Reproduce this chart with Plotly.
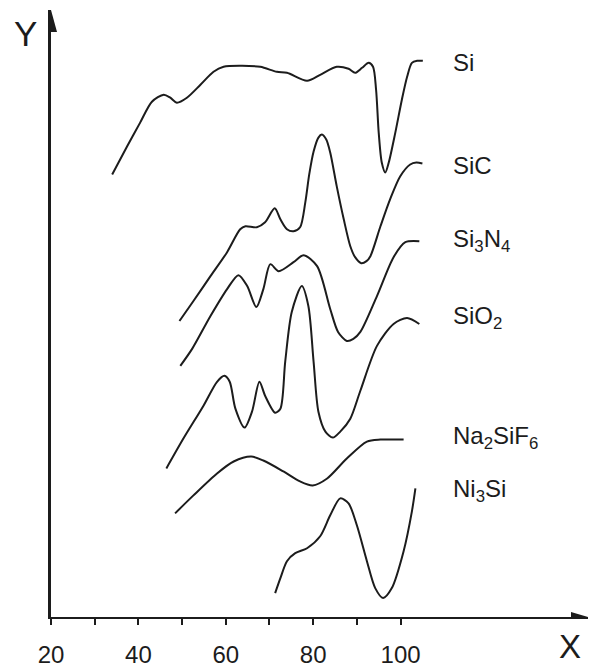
import plotly.graph_objects as go

# ---- data (x in axis units, y in arbitrary height units above the X axis) ----
si_x = [34.0, 37.4, 40.4, 43.1, 45.8, 47.3, 48.8, 51.1, 54.2, 57.2,
        59.5, 63.3, 67.9, 71.7, 74.0, 78.6, 81.6, 85.4, 88.1, 89.6,
        91.2, 92.7, 93.7, 94.4, 95.0, 95.7, 96.5, 97.3, 98.8, 100.3,
        101.5, 102.6, 103.8, 105.1]
si_y = [444, 472, 496, 517, 524, 521, 516, 521, 534, 547,
        552, 553, 552, 547, 546, 538, 544, 552, 550, 546,
        551, 556, 552, 529, 486, 456, 446, 456, 486, 519,
        542, 556, 558, 558]

sic_x = [49.4, 52.6, 56.5, 60.3, 63.3, 64.5, 67.1, 69.0, 71.2, 72.5,
         74.0, 75.5, 77.0, 78.2, 79.1, 80.1, 81.2, 82.0, 83.0, 83.9,
         85.4, 87.0, 88.5, 89.6, 91.0, 92.2, 93.1, 95.4, 97.6, 99.9,
         102.2, 103.6, 105.0]
sic_y = [297, 317, 342, 366, 389, 392, 391, 396, 410, 399,
         389, 387, 391, 416, 444, 467, 481, 484, 479, 466,
         432, 399, 372, 361, 355, 357, 362, 392, 419, 442,
         454, 456, 455]

si3n4_x = [49.6, 52.3, 56.5, 60.3, 62.9, 64.9, 67.0, 68.6, 70.2, 72.1,
           75.5, 77.8, 80.9, 83.9, 85.7, 87.7, 89.2, 90.8, 94.6, 98.4,
           101.1, 104.3]
si3n4_y = [252, 269, 302, 329, 343, 332, 311, 329, 354, 347,
           356, 363, 352, 309, 286, 277, 279, 286, 322, 361,
           376, 377]

sio2_x = [46.4, 50.3, 54.9, 58.0, 59.7, 60.9, 62.2, 64.3, 66.0, 67.7,
          69.0, 71.3, 72.5, 73.6, 75.1, 77.4, 78.9, 80.1, 81.2, 82.8,
          84.5, 86.2, 88.5, 90.8, 94.6, 98.4, 101.5, 104.3]
sio2_y = [149, 179, 212, 236, 242, 236, 209, 190, 206, 236,
          222, 205, 209, 256, 306, 332, 312, 256, 206, 186,
          180, 186, 199, 227, 272, 294, 300, 294]

na2sif6_x = [48.4, 52.6, 58.0, 61.8, 65.8, 68.6, 73.2, 77.0, 79.9, 83.2,
             87.7, 92.3, 95.4, 100.7]
na2sif6_y = [104, 122, 144, 156, 161, 157, 146, 136, 132, 139,
             159, 176, 178, 178]

ni3si_x = [71.3, 72.5, 74.0, 75.9, 78.6, 81.6, 83.9, 86.2, 88.1, 90.0,
           92.3, 94.2, 96.0, 98.0, 100.7, 102.6, 103.4]
ni3si_y = [24, 39, 56, 64, 69, 81, 102, 119, 114, 92,
           56, 29, 19, 29, 66, 106, 129]

series = [
    ("Si", si_x, si_y),
    ("SiC", sic_x, sic_y),
    ("Si<sub>3</sub>N<sub>4</sub>", si3n4_x, si3n4_y),
    ("SiO<sub>2</sub>", sio2_x, sio2_y),
    ("Na<sub>2</sub>SiF<sub>6</sub>", na2sif6_x, na2sif6_y),
    ("Ni<sub>3</sub>Si", ni3si_x, ni3si_y),
]
label_y = [556, 453, 378, 300, 180, 127]
label_x = 111.5

major_ticks = [20, 40, 60, 80, 100]
minor_ticks = [30, 50, 70, 90]

X_MIN, X_MAX = 20, 142.9
Y_MIN, Y_MAX = 0, 609

FONT = "Liberation Sans, Arial, sans-serif"
INK = "#1c1c1c"

fig = go.Figure()
for name, xs, ys in series:
    fig.add_trace(go.Scatter(
        x=xs, y=ys, mode="lines", name=name,
        line=dict(color=INK, width=2, shape="spline", smoothing=0.8),
        showlegend=False, hoverinfo="skip"))

annotations = []
for (name, _, _), ly in zip(series, label_y):
    annotations.append(dict(x=label_x, y=ly, xref="x", yref="y", text=name,
                            showarrow=False, xanchor="left", yanchor="middle",
                            font=dict(family=FONT, size=24, color=INK)))
annotations.append(dict(x=-0.048, y=0.962, xref="paper", yref="paper", text="Y",
                        showarrow=False, xanchor="center", yanchor="middle",
                        borderpad=0,
                        font=dict(family=FONT, size=35, color=INK)))
annotations.append(dict(x=0.966, y=-0.049, xref="paper", yref="paper", text="X",
                        showarrow=False, xanchor="center", yanchor="middle",
                        borderpad=0,
                        font=dict(family=FONT, size=33, color=INK)))

shapes = [
    # arrowhead of Y axis
    dict(type="path", xref="x", yref="y", xsizemode="pixel", ysizemode="pixel",
         xanchor=X_MIN, yanchor=Y_MAX, path="M0,0 L-6,-22 L6,-22 Z",
         fillcolor=INK, line=dict(width=0)),
    # arrowhead of X axis
    dict(type="path", xref="x", yref="y", xsizemode="pixel", ysizemode="pixel",
         xanchor=X_MAX, yanchor=Y_MIN, path="M0,0 L-17,5 L-17,-5 Z",
         fillcolor=INK, line=dict(width=0)),
]

fig.update_layout(
    width=589, height=669,
    margin=dict(l=51, r=1, t=10, b=50),
    paper_bgcolor="white", plot_bgcolor="white",
    annotations=annotations, shapes=shapes,
    xaxis=dict(range=[X_MIN, X_MAX], showgrid=False, zeroline=False,
               showline=True, linecolor=INK, linewidth=2,
               tickmode="array", tickvals=major_ticks,
               ticks="outside", ticklen=6, tickwidth=2, tickcolor=INK,
               ticklabelstandoff=9,
               tickfont=dict(family=FONT, size=24, color=INK),
               minor=dict(tickmode="array", tickvals=minor_ticks,
                          ticks="outside", ticklen=6, tickwidth=2,
                          tickcolor=INK, showgrid=False)),
    yaxis=dict(range=[Y_MIN, Y_MAX], showgrid=False, zeroline=False,
               showline=True, linecolor=INK, linewidth=3,
               showticklabels=False, ticks=""),
)

fig.write_html(
    "out.html",
    config={"displayModeBar": False},
    post_script="document.body.style.margin='0';document.body.style.overflow='hidden';",
)
